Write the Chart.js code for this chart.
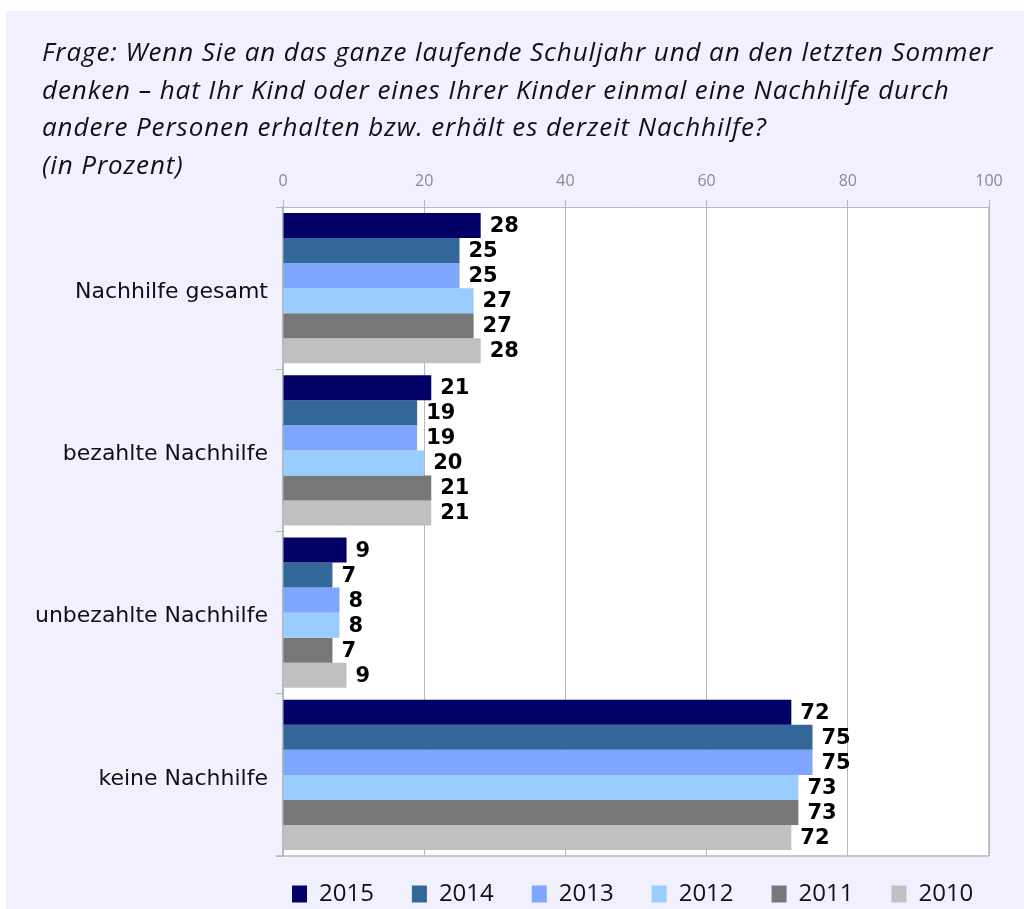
<!DOCTYPE html>
<html>
<head>
<meta charset="utf-8">
<script src="https://cdn.jsdelivr.net/npm/chart.js@4/dist/chart.umd.min.js"></script>
<style>
  html, body { margin: 0; padding: 0; background: #ffffff; }
  #frame { position: absolute; left: 6px; top: 11px; width: 1018px; height: 898px; background: #f0f0fe; }
  #wrap { position: absolute; left: 0; top: 0; width: 1024px; height: 909px; }
  #title {
    position: absolute; left: 42px; top: 33px;
    font-family: "Open Sans", sans-serif;
    font-style: italic; font-size: 26px; line-height: 37.5px; color: #111;
    letter-spacing: 0.9px;
    white-space: nowrap;
  }
</style>
</head>
<body>
<div id="frame"></div>
<div id="wrap"><canvas id="chart" width="1024" height="909"></canvas></div>
<div id="title">Frage: Wenn Sie an das ganze laufende Schuljahr und an den letzten Sommer<br>denken – hat Ihr Kind oder eines Ihrer Kinder einmal eine Nachhilfe durch<br>andere Personen erhalten bzw. erhält es derzeit Nachhilfe?<br>(in Prozent)</div>
<script>
// categories and series
const categories = ['Nachhilfe gesamt', 'bezahlte Nachhilfe', 'unbezahlte Nachhilfe', 'keine Nachhilfe'];
const years = ['2015', '2014', '2013', '2012', '2011', '2010'];
const colors = ['#000066', '#336699', '#7ea6ff', '#99ccff', '#777777', '#c0c0c0'];

const v2015 = [28, 21, 9, 72];
const v2014 = [25, 19, 7, 75];
const v2013 = [25, 19, 8, 75];
const v2012 = [27, 20, 8, 73];
const v2011 = [27, 21, 7, 73];
const v2010 = [28, 21, 9, 72];
const seriesValues = [v2015, v2014, v2013, v2012, v2011, v2010];

const xTicks = [0, 20, 40, 60, 80, 100];

const PAD_LEFT = 6;
const PLOT_LEFT = 283, PLOT_TOP = 207;
const LEGEND_PAD = 38;

// white plot background + right/bottom frame
const plotBg = {
  id: 'plotBg',
  beforeDraw(chart) {
    const a = chart.chartArea, ctx = chart.ctx;
    ctx.save();
    ctx.fillStyle = '#ffffff';
    ctx.fillRect(a.left, a.top, a.right - a.left, a.bottom - a.top);
    ctx.restore();

    // shift the legend row into place (keeps wide item spacing without a tall box)
    const lg = chart.legend;
    if (lg && !lg._shifted) {
      lg.draw = function () {
        const dx = 292 - (lg.left + LEGEND_PAD);
        ctx.save();
        ctx.translate(dx, -12);
        lg._draw();
        ctx.restore();
      };
      lg._shifted = true;
    }
  },
  afterDraw(chart) {
    const a = chart.chartArea, ctx = chart.ctx;
    ctx.save();
    ctx.strokeStyle = '#b8b8b8';
    ctx.lineWidth = 1.5;
    ctx.beginPath();
    ctx.moveTo(a.right, a.top);
    ctx.lineTo(a.right, a.bottom);
    ctx.moveTo(a.left - 7, a.bottom);
    ctx.lineTo(a.right, a.bottom);
    ctx.stroke();
    ctx.restore();
  }
};

// value labels at the end of each bar
const barLabels = {
  id: 'barLabels',
  afterDatasetsDraw(chart) {
    const ctx = chart.ctx;
    ctx.save();
    ctx.font = 'bold 21px "DejaVu Sans", sans-serif';
    ctx.fillStyle = '#000';
    ctx.textBaseline = 'middle';
    ctx.textAlign = 'left';
    chart.data.datasets.forEach((ds, i) => {
      chart.getDatasetMeta(i).data.forEach((bar, j) => {
        ctx.fillText(String(ds.data[j]), bar.x + 9, bar.y + 1);
      });
    });
    ctx.restore();
  }
};

new Chart(document.getElementById('chart'), {
  type: 'bar',
  data: {
    labels: categories,
    datasets: years.map((y, i) => ({
      label: y,
      data: seriesValues[i],
      backgroundColor: colors[i],
      borderWidth: 0,
      barPercentage: 1.0,
      categoryPercentage: 0.925
    }))
  },
  options: {
    indexAxis: 'y',
    responsive: false,
    animation: false,
    layout: { padding: { left: PAD_LEFT, top: 0, right: 35, bottom: 0 } },
    plugins: {
      legend: {
        position: 'bottom',
        align: 'start',
        maxHeight: 53,
        labels: {
          boxWidth: 15,
          boxHeight: 17,
          padding: LEGEND_PAD,
          color: '#111',
          font: { family: '"Open Sans", sans-serif', size: 24 }
        }
      },
      tooltip: { enabled: false }
    },
    scales: {
      x: {
        position: 'top',
        min: 0,
        max: 100,
        afterBuildTicks(scale) { scale.ticks = xTicks.map(v => ({ value: v })); },
        afterFit(scale) { scale.height = PLOT_TOP; },
        grid: { color: '#b8b8b8', lineWidth: 1, tickLength: 7 },
        border: { color: '#b8b8b8' },
        ticks: {
          color: '#8a8a8a',
          padding: 9,
          font: { family: '"Open Sans", sans-serif', size: 16 }
        }
      },
      y: {
        afterFit(scale) { scale.width = PLOT_LEFT - PAD_LEFT; },
        grid: { display: true, drawOnChartArea: false, color: '#b8b8b8', tickLength: 7, offset: true },
        border: { color: '#b8b8b8', width: 1.5 },
        ticks: {
          color: '#111',
          padding: 8,
          labelOffset: 4,
          font: { family: '"DejaVu Sans", sans-serif', size: 22 }
        }
      }
    }
  },
  plugins: [plotBg, barLabels]
});
</script>
</body>
</html>
